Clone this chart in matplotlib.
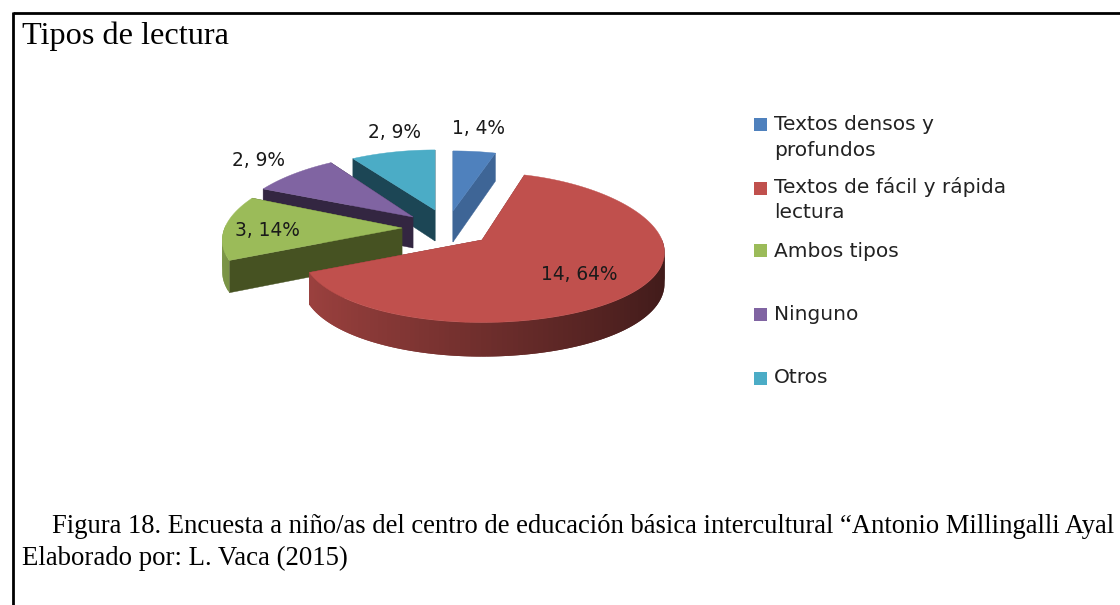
import numpy as np
import matplotlib
matplotlib.use("Agg")
import matplotlib.pyplot as plt
from matplotlib.patches import Polygon, Rectangle

# ---- data ----
categories = ["Textos densos y\nprofundos", "Textos de fácil y rápida\nlectura",
              "Ambos tipos", "Ninguno", "Otros"]
counts = [1, 14, 3, 2, 2]
percents = [4, 64, 14, 9, 9]
title = "Tipos de lectura"
caption1 = "Figura 18. Encuesta a niño/as del centro de educación básica intercultural “Antonio Millingalli Ayal"
caption2 = "Elaborado por: L. Vaca (2015)"

# ---- styles / layout (pixels) ----
colors = ["#4F81BD", "#C0504D", "#9BBB59", "#8064A2", "#4BACC6"]
cut_colors = ["#3E6596", "#7A302E", "#465222", "#332641", "#1C4655"]
apex = [(453, 211), (482, 240), (402, 228), (413, 217), (435, 210)]
ry_scale = [0.89, 1.0, 1.0, 0.94, 0.89]
label_pos = [(479, 129), (579, 275), (267, 230), (259, 160), (394, 133)]
legend_y = [124, 188, 250, 314, 378]
legend_text_y = [130, 193, 257, 320, 383]
R, RY, PX, PY, DEPTH = 180.0, 75.0, 0.17, 0.10, 31.0
LEFT = 0.985
paint_order = [4, 0, 3, 2, 1]

fig = plt.figure(figsize=(11.2, 6.05), dpi=100, facecolor="white")
ax = fig.add_axes([0, 0, 1, 1])
ax.set_xlim(0, 1120)
ax.set_ylim(605, 0)
ax.axis("off")


def project(theta, origin, yscale):
    u, v = np.sin(theta), np.cos(theta)
    x = origin[0] + u * R * (1 - PX * v) * np.where(u < 0, LEFT, 1.0)
    y = origin[1] - v * RY * yscale * (1 - PY * v)
    return x, y


def depth_at(theta):
    return DEPTH * (1 - 0.1 * np.cos(theta))


fractions = np.array(counts) / sum(counts)
edges = np.concatenate([[0], np.cumsum(fractions)]) * 2 * np.pi

for i in paint_order:
    t0, t1 = edges[i], edges[i + 1]
    th = np.linspace(t0, t1, max(int((t1 - t0) * 40), 6))
    xs, ys = project(th, apex[i], ry_scale[i])
    ds = depth_at(th)
    base = np.array(matplotlib.colors.to_rgb(colors[i]))
    ox, oy = apex[i]
    # cut faces (the faces turned away end up under the top face)
    for k in (0, -1):
        quad = [(ox, oy), (xs[k], ys[k]), (xs[k], ys[k] + ds[k]), (ox, oy + DEPTH)]
        ax.add_patch(Polygon(quad, closed=True, fc=cut_colors[i], ec=cut_colors[i], lw=0.3))
    # front part of the rim, shaded from left to right; strips overlap to hide seams
    for k in range(len(th) - 1):
        if np.cos(th[k]) > 0 and np.cos(th[k + 1]) > 0:
            continue
        u = np.sin(0.5 * (th[k] + th[k + 1]))
        shade = 0.83 - 0.50 * (u + 1) / 2 if i == 1 else 0.80 - 0.30 * (u + 1) / 2
        c = tuple(base * shade)
        m = min(k + 2, len(th) - 1)
        quad = [(xs[k], ys[k]), (xs[m], ys[m]), (xs[m], ys[m] + ds[m]), (xs[k], ys[k] + ds[k])]
        ax.add_patch(Polygon(quad, closed=True, fc=c, ec="none", lw=0))
    # top face
    top = [(ox, oy)] + list(zip(xs, ys))
    ax.add_patch(Polygon(top, closed=True, fc=colors[i], ec=colors[i], lw=0.3))

# data labels
for i, (lx, ly) in enumerate(label_pos):
    ax.text(lx, ly, f"{counts[i]}, {percents[i]}%", ha="center", va="center",
            fontsize=13.4, family="DejaVu Sans", color="#1a1a1a")

# legend
for i, cat in enumerate(categories):
    ax.add_patch(Rectangle((754, legend_y[i] - 6.5), 13, 13, fc=colors[i], ec="none"))
    lines = cat.split("\n")
    for j, line in enumerate(lines):
        ax.text(774, legend_text_y[i] + j * 25.5, line, ha="left", va="baseline",
                fontsize=14.5, family="DejaVu Sans", color="#222222")

# frame
ax.plot([12.5, 1120], [13, 13], color="black", lw=2.0, solid_capstyle="butt")
ax.plot([13, 13], [12, 605], color="black", lw=2.0, solid_capstyle="butt")

# texts
ax.text(22, 44, title, family="Liberation Serif", fontsize=23.2, color="black", va="baseline")
ax.text(52, 533, caption1, family="Liberation Serif", fontsize=19.2, color="black", va="baseline", clip_on=True)
ax.text(22, 565, caption2, family="Liberation Serif", fontsize=19.3, color="black", va="baseline")

fig.savefig("out.png", dpi=100, facecolor="white")
